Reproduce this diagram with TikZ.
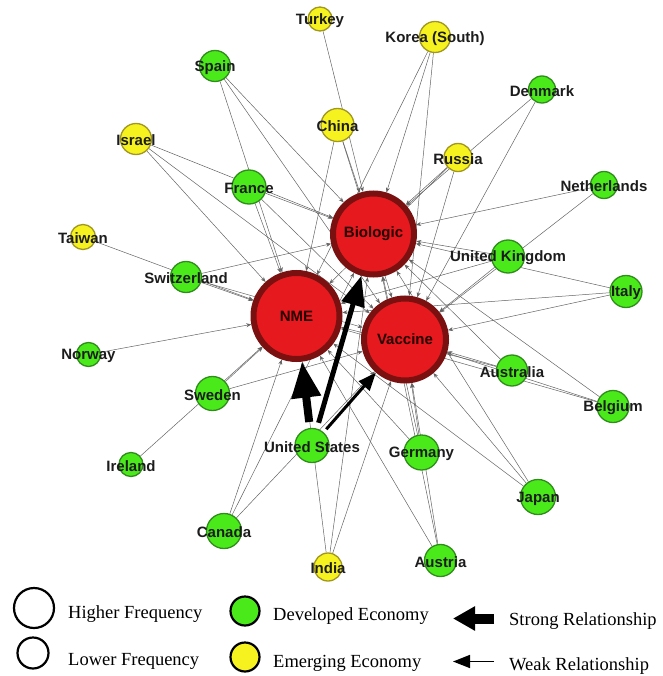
\documentclass[tikz,border=0pt]{standalone}
\usepackage{fontspec}
\setmainfont{Liberation Serif}
\setsansfont{Liberation Sans}
\usetikzlibrary{arrows.meta}
\pgfdeclarelayer{bg}
\pgfsetlayers{bg,main}
\definecolor{gfill}{RGB}{74,234,26}
\definecolor{gdraw}{RGB}{48,140,28}
\definecolor{yfill}{RGB}{246,242,32}
\definecolor{ydraw}{RGB}{160,150,32}
\definecolor{rfill}{RGB}{230,26,30}
\definecolor{rdraw}{RGB}{122,16,16}
\definecolor{edgec}{RGB}{100,100,100}
\definecolor{txt}{RGB}{28,28,28}
\begin{document}
\begin{tikzpicture}[x=1pt,y=-1pt,
  lbl/.style={font=\sffamily\bfseries\fontsize{15}{15}\selectfont, text=txt, inner sep=0pt, yshift=-1.5pt},
  dev/.style={circle, draw=gdraw, fill=gfill, line width=1.3pt, minimum size=#1, inner sep=0pt},
  emg/.style={circle, draw=ydraw, fill=yfill, line width=1.3pt, minimum size=#1, inner sep=0pt},
  hub/.style={circle, draw=rdraw, fill=rfill, line width=6pt, minimum size=#1, inner sep=0pt,
    font=\sffamily\bfseries\fontsize{15}{15}\selectfont, text=black!85!red},
  wk/.style={draw=edgec, line width=0.5pt, -{Stealth[length=5pt,width=4pt]}},
  legc/.style={circle, draw=black, line width=2.2pt, minimum size=#1, inner sep=0pt},
  legt/.style={font=\fontsize{18.5}{20}\selectfont, inner sep=0pt, anchor=base west}]
\useasboundingbox (0,0) rectangle (662,676);

% hubs
\node[hub=81pt] (bio) at (373.5,234) {Biologic};
\node[hub=86pt] (nme) at (296.5,316) {NME};
\node[hub=82pt] (vac) at (405,339.5) {Vaccine};

% countries
\node[emg=24pt, label={[lbl]center:Turkey}] (turkey) at (320,19) {};
\node[emg=31pt, label={[lbl]center:Korea (South)}] (korea) at (435,37) {};
\node[dev=31pt, label={[lbl]center:Spain}] (spain) at (215,66) {};
\node[dev=27pt, label={[lbl]center:Denmark}] (denmark) at (542,89.5) {};
\node[emg=33pt, label={[lbl]center:China}] (china) at (337.5,125) {};
\node[emg=31pt, label={[lbl]center:Israel}] (israel) at (136,139) {};
\node[emg=28pt, label={[lbl]center:Russia}] (russia) at (458,157.5) {};
\node[dev=27pt, label={[lbl]center:Netherlands}] (neth) at (604,185) {};
\node[dev=34pt, label={[lbl]center:France}] (france) at (249,187) {};
\node[emg=25pt, label={[lbl]center:Taiwan}] (taiwan) at (83,237) {};
\node[dev=31pt, label={[lbl]center:Switzerland}] (swiss) at (186,277) {};
\node[dev=33pt, label={[lbl]center:United Kingdom}] (uk) at (508,256.5) {};
\node[dev=32pt, label={[lbl]center:Italy}] (italy) at (626,291.5) {};
\node[dev=24pt, label={[lbl]center:Norway}] (norway) at (88.5,354.5) {};
\node[dev=34pt, label={[lbl]center:Sweden}] (sweden) at (212.5,393.5) {};
\node[dev=31pt, label={[lbl]center:Australia}] (austral) at (512,370.5) {};
\node[dev=32pt, label={[lbl]center:Belgium}] (belgium) at (613,406.5) {};
\node[dev=34pt, label={[lbl]center:United States}] (us) at (312,445.5) {};
\node[dev=35pt, label={[lbl]center:Germany}] (germany) at (421.5,452.5) {};
\node[dev=24pt, label={[lbl]center:Ireland}] (ireland) at (131,464.5) {};
\node[dev=35pt, label={[lbl]center:Japan}] (japan) at (538,497) {};
\node[dev=35pt, label={[lbl]center:Canada}] (canada) at (224,531) {};
\node[emg=28pt, label={[lbl]center:India}] (india) at (328,567) {};
\node[dev=32pt, label={[lbl]center:Austria}] (austria) at (440.5,560.5) {};

% weak edges
\begin{pgfonlayer}{bg}
\foreach \s/\t in {turkey/bio, korea/bio, korea/nme, korea/vac, spain/bio, spain/nme, spain/vac,
  denmark/bio, denmark/vac, china/bio, china/nme, china/vac, israel/bio, israel/nme, israel/vac,
  russia/bio, russia/nme, russia/vac, neth/bio, neth/vac, france/bio, france/nme, france/vac,
  taiwan/nme, swiss/bio, swiss/nme, swiss/vac, uk/bio, uk/nme, uk/vac, italy/bio, italy/nme, italy/vac,
  norway/nme, sweden/nme, sweden/vac, austral/bio, austral/nme, austral/vac,
  belgium/bio, belgium/nme, belgium/vac, germany/bio, germany/nme, germany/vac,
  ireland/nme, japan/bio, japan/nme, japan/vac, canada/bio, canada/nme, canada/vac,
  india/bio, india/nme, india/vac, austria/bio, austria/nme, austria/vac}
  \draw[wk] (\s) -- (\t);
\end{pgfonlayer}

% strong edges from the United States
\draw[line width=8pt, shorten <=6pt, -{Triangle[length=36pt,width=28pt]}] (us) -- (nme);
\draw[line width=5pt, shorten <=6pt, -{Triangle[length=30pt,width=23pt]}] (us) -- (bio);
\draw[line width=3pt, shorten <=4pt, -{Triangle[length=18pt,width=14pt]}] (us) -- (vac);

% legend
\node[legc=40pt] (lhi) at (34,608) {};
\node[legc=31pt] (llo) at (33,653) {};
\node[legc=29pt, fill=gfill] (ldev) at (245,611) {};
\node[legc=29pt, fill=yfill] (lemg) at (245,657) {};
\node[legt] (thi) at (68,618) {Higher Frequency};
\node[legt] (tlo) at (68,665) {Lower Frequency};
\node[legt] (tdev) at (273,620) {Developed Economy};
\node[legt] (temg) at (273,667) {Emerging Economy};
\node[legt] (tstr) at (509,625) {Strong Relationship};
\node[legt] (twk) at (509,670) {Weak Relationship};
\coordinate (sa1) at (494,618.5);
\coordinate (sa2) at (453,618.5);
\coordinate (wa1) at (494,661.5);
\coordinate (wa2) at (453,661.5);
\draw[line width=10pt, -{Triangle[length=22pt,width=23pt]}] (sa1) -- (sa2);
\draw[line width=1.6pt, -{Triangle[length=17pt,width=13pt]}] (wa1) -- (wa2);
\end{tikzpicture}
\end{document}
